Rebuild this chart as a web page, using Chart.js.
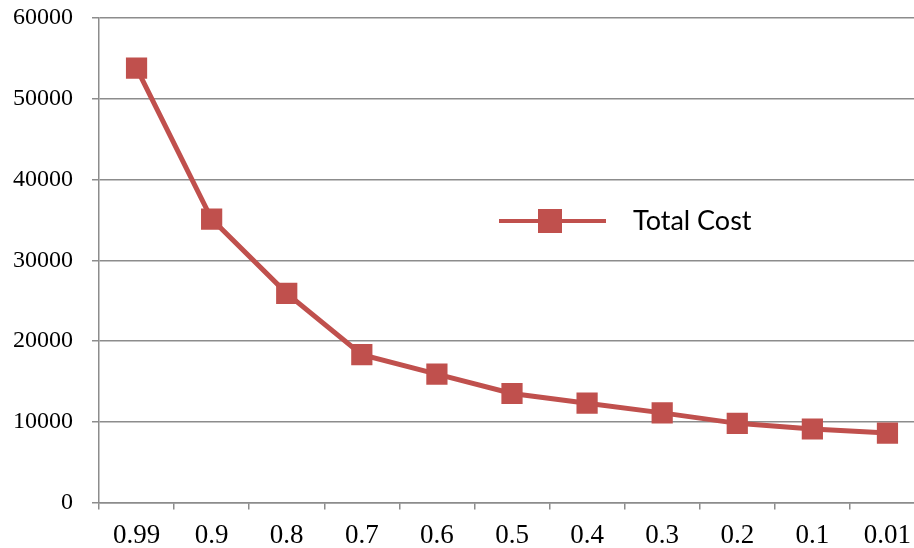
<!DOCTYPE html>
<html>
<head>
<meta charset="utf-8">
<script src="https://cdn.jsdelivr.net/npm/chart.js@4/dist/chart.umd.min.js"></script>
<style>
  html, body { margin: 0; padding: 0; background: #ffffff; overflow: hidden; }
  #wrap { width: 914px; height: 548px; position: relative; overflow: hidden; }
  #c { position: absolute; left: 0; top: 0; }
</style>
</head>
<body>
<div id="wrap"><canvas id="c" width="940" height="548"></canvas></div>
<script>
// Probability levels along the horizontal axis
const categories = ['0.99', '0.9', '0.8', '0.7', '0.6', '0.5', '0.4', '0.3', '0.2', '0.1', '0.01'];
// Total cost for each probability level
const totalCost = [53800, 35100, 25900, 18300, 15900, 13500, 12300, 11100, 9800, 9100, 8600];
const seriesName = 'Total Cost';
// Value axis range
const yMin = 0;
const yMax = 60000;
const yStep = 10000;

const RED = '#C0504D';
const GRID = '#8c8c8c';

// Legend drawn inside the plot: a line with a square marker, then the name
const insideLegend = {
  id: 'insideLegend',
  afterDatasetsDraw(chart) {
    const ctx = chart.ctx;
    const y = 221;
    ctx.save();
    ctx.strokeStyle = RED;
    ctx.lineWidth = 4;
    ctx.beginPath();
    ctx.moveTo(499, y);
    ctx.lineTo(606, y);
    ctx.stroke();
    ctx.fillStyle = RED;
    ctx.fillRect(550 - 12, y - 12, 24, 24);
    ctx.fillStyle = '#000000';
    ctx.font = '27px Lato, "Open Sans", sans-serif';
    ctx.textBaseline = 'middle';
    ctx.textAlign = 'left';
    ctx.fillText(seriesName, 633, y);
    ctx.restore();
  }
};

new Chart(document.getElementById('c'), {
  type: 'line',
  data: {
    labels: categories,
    datasets: [{
      label: seriesName,
      data: totalCost,
      borderColor: RED,
      backgroundColor: RED,
      borderWidth: 5,
      pointStyle: 'rect',
      pointRadius: 15,
      pointHoverRadius: 15,
      pointBorderWidth: 0,
      pointBackgroundColor: RED,
      tension: 0,
      fill: false
    }]
  },
  options: {
    responsive: false,
    animation: false,
    events: [],
    layout: { padding: { top: 18, right: 2, left: 0, bottom: 0 } },
    plugins: {
      legend: { display: false },
      tooltip: { enabled: false }
    },
    scales: {
      x: {
        type: 'category',
        offset: true,
        grid: {
          offset: true,
          drawOnChartArea: false,
          drawTicks: true,
          tickLength: 7,
          color: GRID,
          lineWidth: 1.5
        },
        border: { display: true, color: GRID, width: 1.5 },
        ticks: {
          color: '#000000',
          font: { family: '"Liberation Serif", "Times New Roman", serif', size: 27 },
          padding: 10,
          maxRotation: 0,
          autoSkip: false
        },
        afterFit(scale) {
          scale.height = 45.5;
          scale.paddingLeft = 0;
          scale.paddingRight = 0;
        }
      },
      y: {
        min: yMin,
        max: yMax,
        grid: {
          color: GRID,
          lineWidth: 1.5,
          drawTicks: true,
          tickLength: 7
        },
        border: { display: true, color: GRID, width: 1.5 },
        ticks: {
          stepSize: yStep,
          color: '#000000',
          font: { family: '"Liberation Serif", "Times New Roman", serif', size: 24 },
          padding: 19,
          callback: (v) => String(v)
        },
        afterFit(scale) {
          scale.width = 99;
          scale.paddingTop = 0;
          scale.paddingBottom = 0;
        }
      }
    }
  },
  plugins: [insideLegend]
});
</script>
</body>
</html>
